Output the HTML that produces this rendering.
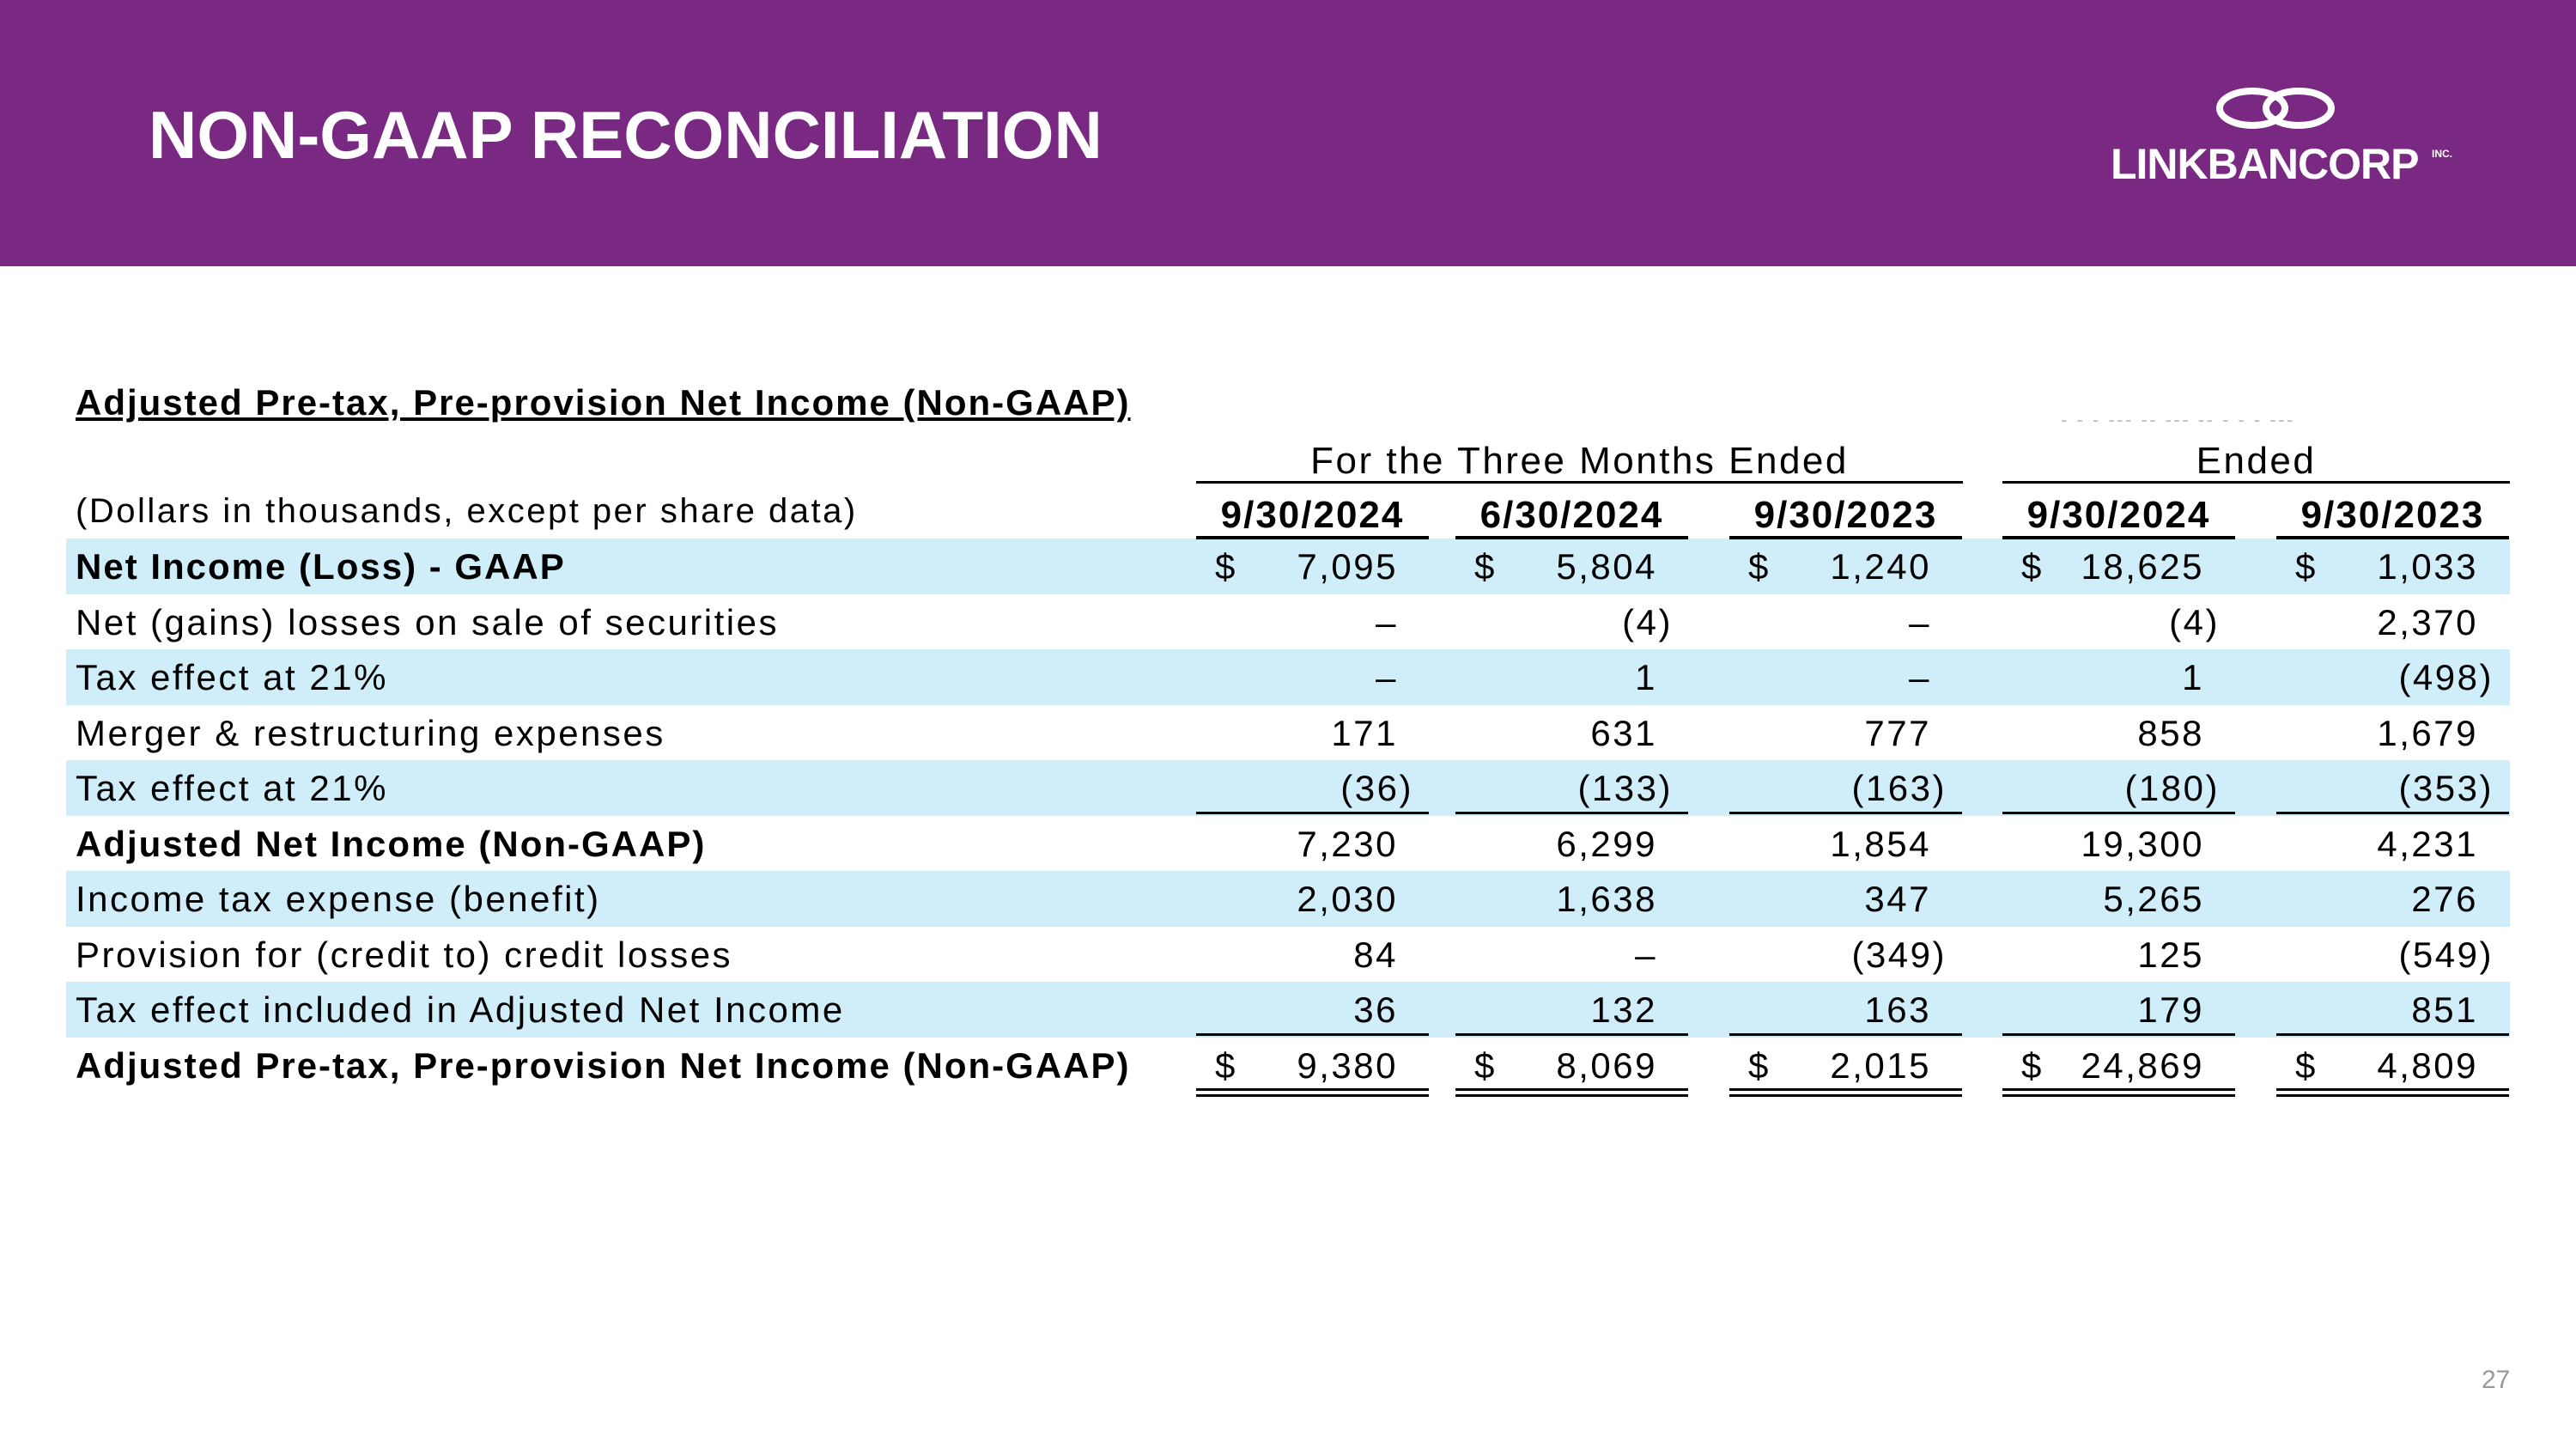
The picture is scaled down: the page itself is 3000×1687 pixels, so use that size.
<!DOCTYPE html>
<html><head><meta charset="utf-8">
<style>
html,body{margin:0;padding:0;}
body{width:3000px;height:1687px;position:relative;background:#fff;overflow:hidden;font-family:"Liberation Sans Narrow","Liberation Sans",sans-serif;}
#hdr{position:absolute;left:0;top:0;width:3000px;height:310px;background:#7A2982;}
#title{position:absolute;left:173px;top:112px;font-family:"Liberation Sans",sans-serif;font-weight:bold;font-size:78px;color:#fff;}
#logotext{position:absolute;left:2458px;top:162px;font-family:"Liberation Sans",sans-serif;font-size:50px;font-weight:bold;color:#fff;letter-spacing:-1px;}
#inc{position:absolute;left:2832px;top:172px;font-family:"Liberation Sans",sans-serif;font-size:12px;font-weight:bold;color:#fff;}
.t{position:absolute;white-space:nowrap;font-size:42px;color:#000;letter-spacing:2.5px;line-height:1;}
.b{font-weight:bold;letter-spacing:2px;}
.band{position:absolute;left:77px;width:2846px;background:#D0EEF9;}
.ln{position:absolute;background:#000;}
#pg{position:absolute;left:2890px;top:1590px;font-family:"Liberation Sans",sans-serif;font-size:30px;color:#999;}
</style></head>
<body>
<div id="hdr"></div>
<div id="title">NON-GAAP RECONCILIATION</div>
<svg style="position:absolute;left:2575px;top:95px" width="150" height="62">
<ellipse cx="48" cy="31" rx="38" ry="20" fill="none" stroke="#fff" stroke-width="8"/>
<ellipse cx="102" cy="31" rx="38" ry="20" fill="none" stroke="#fff" stroke-width="8"/>
</svg>
<div id="logotext">LINKBANCORP</div>
<div id="inc">INC.</div>
<div id="tbl"></div>
<div id="pg">27</div>
<script>
const labels=["Net Income (Loss) - GAAP","Net (gains) losses on sale of securities","Tax effect at 21%","Merger & restructuring expenses"," Tax effect at 21%","Adjusted Net Income (Non-GAAP)","Income tax expense (benefit)"," Provision for (credit to) credit losses","Tax effect included in Adjusted Net Income","Adjusted Pre-tax, Pre-provision Net Income (Non-GAAP)"];
const col1=["7,095","–","–","171","(36)","7,230","2,030","84","36","9,380"];
const col2=["5,804","(4)","1","631","(133)","6,299","1,638","–","132","8,069"];
const col3=["1,240","–","–","777","(163)","1,854","347","(349)","163","2,015"];
const col4=["18,625","(4)","1","858","(180)","19,300","5,265","125","179","24,869"];
const col5=["1,033","2,370","(498)","1,679","(353)","4,231","276","(549)","851","4,809"];
const dates=["9/30/2024","6/30/2024","9/30/2023","9/30/2024","9/30/2023"];
const boldRows=[0,5,9];
const shadedRows=[0,2,4,6,8];
const dollarRows=[0,9];

const T=document.getElementById('tbl');
const cols=[col1,col2,col3,col4,col5];
const colL=[1393,1695,2014,2332,2651], colW=271;
const rowTop=627, rowH=64.5;
function add(cls,txt,css,name){const d=document.createElement('div');d.className=cls;if(txt!==null)d.textContent=txt;Object.assign(d.style,css);


T.appendChild(d);return d;}
shadedRows.forEach(r=>add('band',null,{top:(rowTop+r*rowH)+'px',height:rowH+'px'},'row-band-'+r));
add('t b','Adjusted Pre-tax, Pre-provision Net Income (Non-GAAP)',{left:'88px',top:'448px',textDecoration:'underline'},'table-title');
add('t','(Dollars in thousands, except per share data)',{left:'88px',top:'575px',fontSize:'40px'},'units-note');
add('t','For the Three Months Ended',{left:'1393px',width:'893px',textAlign:'center',top:'515px',fontSize:'44px'},'three-months-header');
add('t','- - -  ---  --  ---  --  - - - ---',{left:'2400px',top:'478px',fontSize:'22px',color:'#bbb'},'nine-months-header-faint');
add('t','Ended',{left:'2332px',width:'591px',textAlign:'center',top:'515px',fontSize:'44px'},'nine-months-header');
add('ln',null,{left:'1393px',width:'893px',top:'560px',height:'3px'},'header-line-1');
add('ln',null,{left:'2332px',width:'591px',top:'560px',height:'3px'},'header-line-2');
dates.forEach((d,i)=>{
 add('t b',d,{left:colL[i]+'px',width:colW+'px',textAlign:'center',top:'578px',fontSize:'44px'},'date-header-'+i);
 add('ln',null,{left:colL[i]+'px',width:colW+'px',top:'624px',height:'4px'},'date-line-'+i);
 add('ln',null,{left:colL[i]+'px',width:colW+'px',top:'945px',height:'3px'},'subtotal-line-'+i);
 add('ln',null,{left:colL[i]+'px',width:colW+'px',top:'1203px',height:'3px'},'total-line-'+i);
 add('ln',null,{left:colL[i]+'px',width:colW+'px',top:'1267px',height:'3px'},'double-line-a-'+i);
 add('ln',null,{left:colL[i]+'px',width:colW+'px',top:'1274px',height:'3px'},'double-line-b-'+i);
});
labels.forEach((l,r)=>{
 const top=rowTop+r*rowH+12;
 add('t'+(boldRows.includes(r)?' b':''),l,{left:'88px',top:top+'px'},'row-label-'+r);
 cols.forEach((c,i)=>{
  const v=c[r];const par=v.startsWith('(');
  add('t',v,{left:colL[i]+'px',width:(colW-(par?18:36))+'px',textAlign:'right',top:top+'px'},'cell-r'+r+'-c'+i);
  if(dollarRows.includes(r))add('t','$',{left:(colL[i]+22)+'px',top:top+'px'},'dollar-r'+r+'-c'+i);
 });
});
</script>
</body></html>
